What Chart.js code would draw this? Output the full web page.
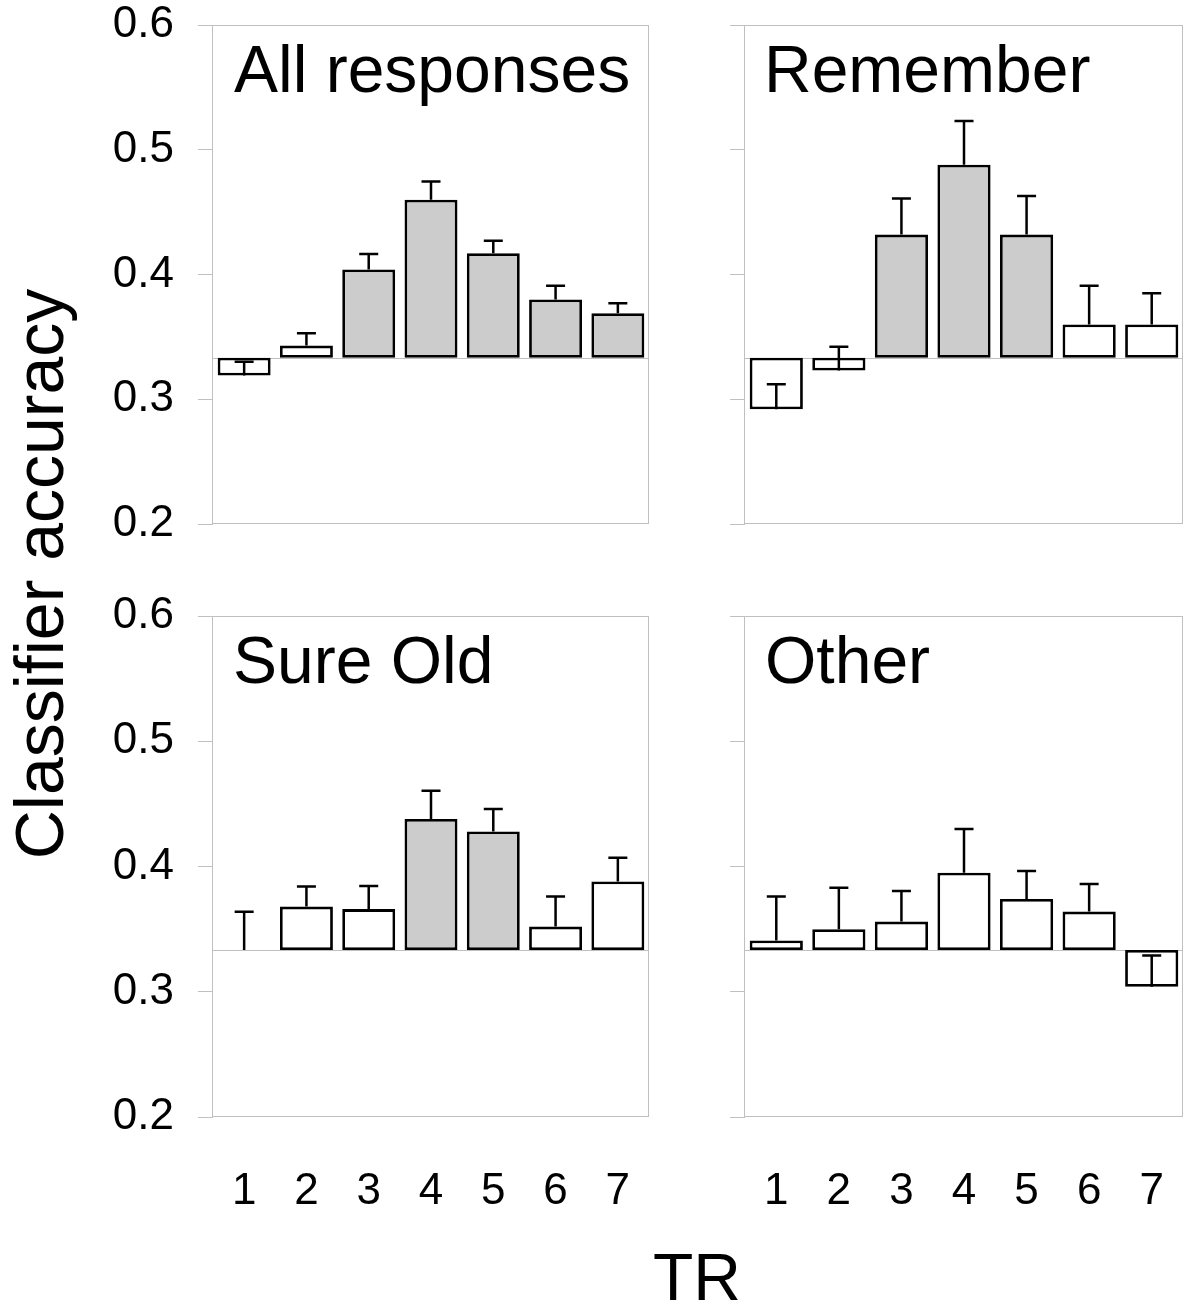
<!DOCTYPE html>
<html><head><meta charset="utf-8">
<script src="https://cdn.jsdelivr.net/npm/chart.js@4.4.1/dist/chart.umd.min.js"></script>
<style>
html,body{margin:0;padding:0;background:#fff;}
body{width:1184px;height:1306px;position:relative;overflow:hidden;font-family:'Liberation Sans',Arial,sans-serif;}
canvas{position:absolute;display:block;}
.txt{position:absolute;color:#000;white-space:nowrap;font-size:66px;line-height:66px;}
</style></head><body>
<canvas id="c0" width="660" height="540" style="left:0;top:0;width:660px;height:540px"></canvas>
<canvas id="c1" width="504" height="540" style="left:680px;top:0;width:504px;height:540px"></canvas>
<canvas id="c2" width="660" height="715" style="left:0;top:591px;width:660px;height:715px"></canvas>
<canvas id="c3" width="504" height="715" style="left:680px;top:591px;width:504px;height:715px"></canvas>

<div class="txt" style="left:234px;top:36px">All responses</div>
<div class="txt" style="left:764px;top:36px">Remember</div>
<div class="txt" style="left:233px;top:627px">Sure Old</div>
<div class="txt" style="left:765px;top:627px">Other</div>
<div class="txt" style="left:597px;top:1244px;width:200px;text-align:center">TR</div>
<div class="txt" style="left:-261px;top:540px;width:600px;height:68px;font-size:68px;line-height:68px;text-align:center;transform:rotate(-90deg)">Classifier accuracy</div>

<script>
// ---- data ----
const categories = ['1','2','3','4','5','6','7'];
const yTickLabels = ['0.2','0.3','0.4','0.5','0.6'];
const chance = 0.3333;

const panelTitles = ['All responses','Remember','Sure Old','Other'];

const allValues = [0.319, 0.343, 0.404, 0.460, 0.417, 0.380, 0.369];
const allSem    = [0.011, 0.010, 0.0125, 0.0145, 0.010, 0.011, 0.008];
const allSig    = [0, 0, 1, 1, 1, 1, 1];

const rememberValues = [0.292, 0.323, 0.432, 0.488, 0.432, 0.360, 0.360];
const rememberSem    = [0.020, 0.019, 0.029, 0.035, 0.031, 0.031, 0.025];
const rememberSig    = [0, 0, 1, 1, 1, 0, 0];

const sureOldValues = [0.3333, 0.368, 0.366, 0.438, 0.428, 0.352, 0.388];
const sureOldSem    = [0.0306, 0.016, 0.0185, 0.0225, 0.018, 0.024, 0.019];
const sureOldSig    = [0, 0, 0, 1, 1, 0, 0];

const otherValues = [0.341, 0.350, 0.356, 0.395, 0.374, 0.364, 0.304];
const otherSem    = [0.035, 0.033, 0.0245, 0.035, 0.0225, 0.022, 0.025];
const otherSig    = [0, 0, 0, 0, 0, 0, 0];

// ---- plugins ----
const frame = {
  id: 'frame',
  beforeDatasetsDraw(chart) {
    const {ctx, chartArea: a, scales: {y}} = chart;
    ctx.save();
    ctx.strokeStyle = '#c0c0c0';
    ctx.lineWidth = 1;
    const yb = Math.round(y.getPixelForValue(chance)) + 0.5;
    ctx.beginPath(); ctx.moveTo(a.left, yb); ctx.lineTo(a.right, yb); ctx.stroke();
    ctx.restore();
  },
  afterDraw(chart) {
    const {ctx, chartArea: a} = chart;
    ctx.save();
    ctx.strokeStyle = '#c0c0c0';
    ctx.lineWidth = 1;
    ctx.strokeRect(Math.round(a.left) - 0.5, Math.round(a.top) + 0.5,
                   Math.round(a.right - a.left), Math.round(a.bottom - a.top) - 1);
    ctx.restore();
  }
};
const errorBars = {
  id: 'errorBars',
  afterDatasetsDraw(chart) {
    const {ctx, scales: {y}} = chart;
    const ds = chart.data.datasets[0];
    const meta = chart.getDatasetMeta(0);
    ctx.save();
    ctx.strokeStyle = '#000';
    ctx.lineWidth = 2.5;
    ds.values.forEach((v, i) => {
      const x = meta.data[i].x;
      const y0 = y.getPixelForValue(v);
      const y1 = y.getPixelForValue(v + ds.sem[i]);
      ctx.beginPath();
      ctx.moveTo(x, y0); ctx.lineTo(x, y1);
      ctx.moveTo(x - 9.5, y1); ctx.lineTo(x + 9.5, y1);
      ctx.stroke();
    });
    ctx.restore();
  }
};

const FONT = "'Liberation Sans', Arial, sans-serif";

function makePanel(id, values, sem, sig, opts) {
  const chart = new Chart(document.getElementById(id), {
    type: 'bar',
    data: {
      labels: categories,
      datasets: [{
        data: values.map(v => [chance, v]),
        values: values,
        sem: sem,
        backgroundColor: sig.map(s => s ? '#cccccc' : '#ffffff'),
        borderColor: '#000000',
        borderWidth: values.map(v => Math.abs(v - chance) < 0.0005 ? 0 : 2.8),
        borderSkipped: false,
        barPercentage: 0.85,
        categoryPercentage: 1.0
      }]
    },
    options: {
      responsive: false,
      maintainAspectRatio: false,
      devicePixelRatio: 1,
      animation: false,
      layout: { padding: {left: 0, top: 0, right: 0, bottom: 0} },
      plugins: { legend: { display: false }, tooltip: { enabled: false } },
      scales: {
        x: {
          display: opts.showX,
          offset: true,
          grid: { display: false },
          border: { display: false },
          ticks: { color: '#000', font: { family: FONT, size: 44 }, padding: 40, maxRotation: 0, autoSkip: false },
          afterFit: s => {
            if (opts.showX) s.height = 130;
            s.paddingLeft = 0; s.paddingRight = 0;
          }
        },
        y: {
          min: 0.2, max: 0.6,
          border: { display: false },
          grid: { drawOnChartArea: false, drawTicks: true, tickLength: 15, color: '#c0c0c0', lineWidth: 1 },
          ticks: {
            stepSize: 0.1,
            display: opts.showYLabels,
            color: '#000',
            padding: 24,
            font: { family: FONT, size: 44 },
            callback: (v, i) => yTickLabels[i]
          },
          afterFit: s => {
            s.width = opts.yWidth;
            s.paddingTop = 0; s.paddingBottom = 0;
          }
        }
      }
    },
    plugins: [frame, errorBars]
  });
  // fit chart area onto the target rectangle
  const t = opts.area;
  for (let k = 0; k < 3; k++) {
    const a = chart.chartArea;
    const p = chart.options.layout.padding;
    const np = {
      left: p.left + (t.left - a.left),
      top: p.top + (t.top - a.top),
      right: p.right + (a.right - t.right),
      bottom: p.bottom + (a.bottom - t.bottom)
    };
    if (np.left === p.left && np.top === p.top && np.right === p.right && np.bottom === p.bottom) break;
    chart.options.layout.padding = np;
    chart.update();
  }
  return chart;
}

makePanel('c0', allValues, allSem, allSig,
  { area: {left: 213, top: 25, right: 649, bottom: 524}, showX: false, showYLabels: true, yWidth: 213 });
makePanel('c1', rememberValues, rememberSem, rememberSig,
  { area: {left: 65, top: 25, right: 503, bottom: 524}, showX: false, showYLabels: false, yWidth: 65 });
makePanel('c2', sureOldValues, sureOldSem, sureOldSig,
  { area: {left: 213, top: 25, right: 649, bottom: 526}, showX: true, showYLabels: true, yWidth: 213 });
makePanel('c3', otherValues, otherSem, otherSig,
  { area: {left: 65, top: 25, right: 503, bottom: 526}, showX: true, showYLabels: false, yWidth: 65 });
</script>
</body></html>
